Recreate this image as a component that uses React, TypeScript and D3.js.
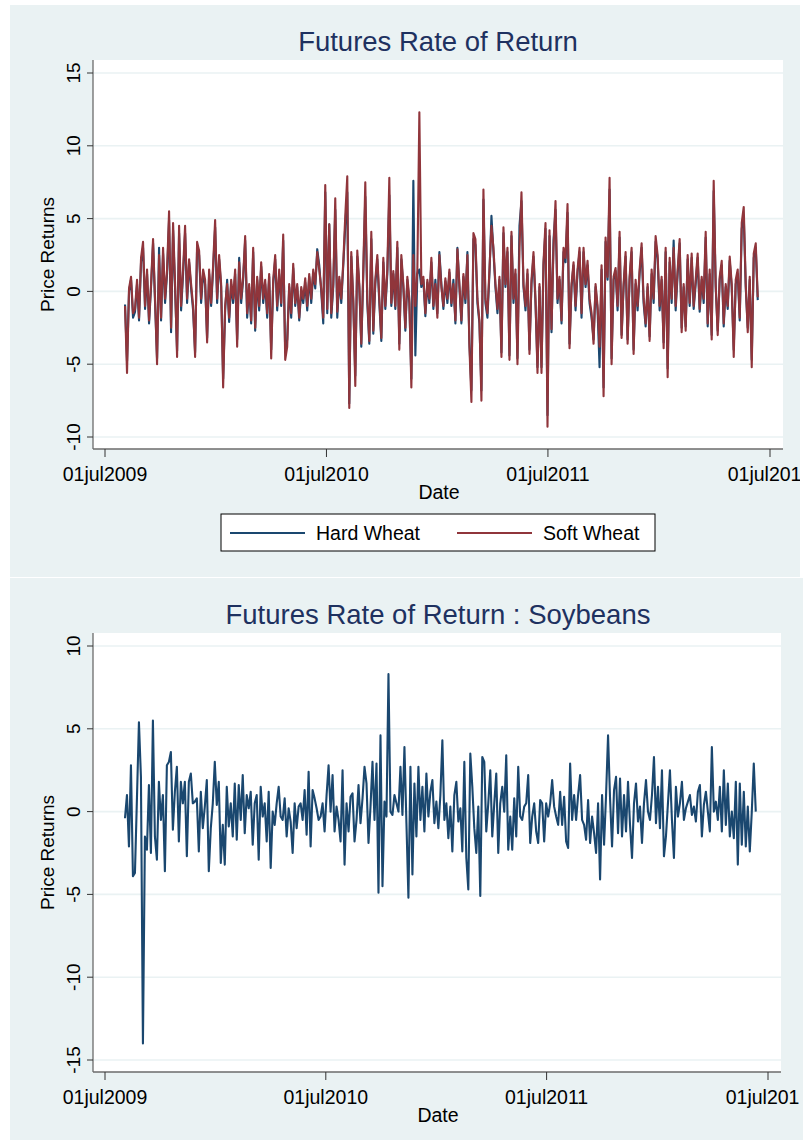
import React from "react";
import * as d3 from "d3";

// ---------- DATA ----------
const START_DATE = new Date(2009, 7, 3);
const STEP_DAYS = 3.3;

const SOFT_WHEAT = [
  -1.0, -5.6, 0.2, 1.0, -1.5, -1.2, 0.8, -1.8, 2.3, 3.4,
  -1.0, 1.5, -2.0, 0.5, 3.6, -0.5, -5.0, 2.5, -1.8, 3.0,
  -0.5, 1.5, 5.5, -2.5, 4.7, 0.5, -4.5, 4.5, -1.0, 1.5,
  4.5, -0.5, 2.2, 0.5, -1.0, -4.5, 3.4, 2.8, -0.5, 1.5,
  0.8, -3.5, 1.5, -0.8, 1.8, 4.9, -0.5, 2.5, 0.5, -6.6,
  -1.0, 0.5, -1.8, 0.8, -0.5, 1.5, -3.8, 2.0, -0.5, 1.0,
  3.8, -1.5, 0.5, -2.0, 3.0, -2.5, 1.0, -1.0, 2.0, -0.5,
  0.8, -1.5, 1.2, -4.6, 0.8, 2.5, -1.0, 1.5, -0.8, 3.9,
  -4.7, -3.8, 0.5, -1.5, 1.9, -0.8, 0.5, -1.8, 0.3, -0.5,
  0.9, -1.0, 1.2, -0.5, 1.5, 0.5, 2.7, 1.5, 0.2, -1.8,
  7.3, -1.2, 4.6, -1.5, 0.5, 6.4, -1.4, 1.0, -0.5, 2.0,
  5.2, 7.9, -8.0, 2.7, -0.5, -6.5, 2.8, 0.5, -3.6, 1.5,
  7.5, -0.5, -3.4, 4.1, -2.7, 0.8, 2.5, -0.5, -3.2, 2.3,
  -1.0, 1.5, 7.8, -0.8, 1.4, -1.0, 3.4, -4.0, 2.5, 0.5,
  -2.5, 1.0, -0.5, -6.6, 2.5, -1.0, 1.5, 12.3, 0.5, 1.0,
  -1.5, 0.8, -0.5, 2.3, -1.0, 0.5, -1.8, 2.5, 0.3, -1.0,
  0.9, -0.5, 1.5, -0.8, 0.5, -2.0, 2.9, 0.5, -2.0, 1.2,
  -0.5, 2.5, -3.8, -7.6, 4.0, 3.6, -0.5, -2.0, -7.5, 7.0,
  -0.5, -1.5, 1.5, 4.5, 3.0, 0.5, -1.2, 1.0, -4.5, 4.4,
  0.5, 3.0, -4.7, 4.1, -0.5, 1.5, -5.0, 3.0, 6.8, 0.5,
  -1.0, 1.5, -4.3, 0.8, 2.7, -0.5, -5.6, 0.5, -5.6, 2.0,
  4.7, -9.3, 4.2, -2.6, 3.0, 6.2, -0.5, 1.0, -2.0, 3.0,
  2.3, 6.0, -3.9, 0.5, 2.0, -1.0, 1.5, 3.0, -1.5, 3.0,
  0.5, 2.1, -0.5, -1.5, -3.6, 0.5, -1.0, -3.8, 1.8, -7.2,
  3.7, 1.0, 7.8, -5.0, 1.0, 1.6, -1.0, 4.1, -3.2, 0.5,
  2.7, -3.6, 1.0, 3.0, -4.3, 0.8, -1.0, 1.5, 3.3, -0.5,
  -2.2, 0.5, -3.4, 1.5, -0.5, 3.8, 2.5, -1.0, 1.0, -3.9,
  3.0, -5.9, 2.3, -0.5, 3.0, -1.0, 1.5, 3.6, -2.8, 0.5,
  -2.7, 2.5, -0.8, 2.6, -1.0, 0.8, 2.6, -1.2, 1.0, -0.5,
  4.1, -2.2, 1.5, -3.3, 7.6, 0.5, -3.0, 1.0, 2.1, -2.2,
  0.5, -1.0, 2.4, 0.5, -4.5, 0.8, 1.5, -1.8, 4.7, 5.8,
  0.5, -2.8, 1.0, -5.2, 2.6, 3.3, -0.4,
];

const HARD_WHEAT = [
  -0.9, -4.8, 0.0, 0.8, -1.8, -1.4, 0.5, -2.0, 2.0, 3.0,
  -1.2, 1.2, -2.2, 0.3, 3.3, -0.8, -4.6, 3.0, -2.0, 2.6,
  -0.8, 1.2, 4.9, -2.8, 4.2, 0.2, -4.1, 4.0, -1.3, 1.2,
  4.0, -0.8, 2.0, 0.2, -1.3, -4.2, 3.0, 2.5, -0.8, 1.2,
  0.5, -3.2, 1.2, -1.0, 1.5, 4.4, -0.8, 2.2, 0.3, -6.0,
  -1.3, 0.8, -2.1, 0.5, -0.8, 1.2, -3.3, 2.3, -0.8, 0.8,
  3.5, -1.8, 0.3, -2.2, 2.7, -2.7, 0.8, -1.3, 1.7, -0.8,
  0.5, -1.8, 1.0, -4.0, 0.5, 2.2, -1.3, 1.2, -1.0, 3.5,
  -4.2, -3.3, 0.3, -1.8, 1.6, -1.0, 0.3, -2.0, 0.0, -0.8,
  0.6, -1.3, 1.0, -0.8, 1.3, 0.2, 2.9, 1.8, 0.0, -2.2,
  6.8, -1.5, 4.6, -1.8, 0.3, 5.6, -1.8, 0.8, -0.8, 1.8,
  4.5, 6.8, -7.7, 2.4, -0.8, -5.8, 2.4, 0.3, -3.8, 1.2,
  6.5, -0.8, -3.6, 3.6, -2.9, 0.5, 2.2, -0.8, -3.4, 2.0,
  -1.2, 1.2, 6.6, -1.0, 1.2, -1.2, 3.0, -3.6, 2.2, 0.3,
  -2.7, 0.8, -0.8, -6.0, 7.6, -4.4, 1.2, 1.5, 0.3, 0.8,
  -1.7, 0.6, -0.8, 2.0, -1.2, 0.8, -1.5, 2.7, 0.5, -1.2,
  0.7, -0.8, 1.3, -1.0, 0.8, -2.2, 3.0, 0.3, -2.2, 1.0,
  -0.8, 2.7, -3.5, -6.8, 3.6, 3.2, -0.8, -2.2, -6.8, 6.3,
  -0.8, -1.8, 1.2, 5.2, 2.7, 0.3, -1.5, 0.8, -4.2, 4.0,
  0.3, 2.7, -4.4, 3.8, -0.8, 1.2, -4.6, 4.5, 6.2, 0.3,
  -1.3, 1.2, -4.0, 0.5, 2.4, -0.8, -5.2, 0.3, -5.2, 1.8,
  4.3, -8.5, 3.8, -2.8, 3.5, 5.6, -0.8, 0.8, -2.2, 2.7,
  2.0, 5.4, -3.6, 0.3, 1.8, -1.3, 1.3, 2.7, -1.8, 2.7,
  0.3, 1.8, -0.8, -1.8, -3.3, 0.3, -1.3, -5.2, 1.5, -6.6,
  3.4, 0.8, 7.0, -4.6, 0.8, 1.4, -1.3, 3.7, -3.0, 0.3,
  2.4, -3.3, 0.8, 2.7, -4.0, 0.5, -1.3, 1.2, 3.0, -0.8,
  -2.4, 0.3, -3.1, 1.2, -0.8, 3.4, 2.2, -1.3, 0.8, -3.5,
  2.7, -5.3, 2.0, -0.8, 3.5, -1.3, 1.2, 3.3, -2.5, 0.3,
  -2.4, 2.2, -1.0, 2.3, -1.2, 0.5, 2.3, -1.4, 0.8, -0.8,
  3.7, -2.4, 1.2, -3.0, 6.9, 0.3, -2.7, 0.8, 1.8, -2.4,
  0.3, -1.2, 2.1, 0.3, -4.0, 0.5, 1.2, -2.0, 4.3, 5.2,
  0.3, -2.5, 0.8, -4.7, 2.3, 3.0, -0.6,
];

const SOYBEANS = [
  -0.4, 1.0, -2.1, 2.8, -3.9, -3.7, 0.8, 5.4, 2.1, -14.0,
  -1.5, -2.3, 1.6, -2.5, 5.5, -1.5, -2.9, 1.8, -0.5, 1.0,
  -3.6, 2.8, 3.0, 3.6, -1.1, 1.2, 2.7, -1.8, 1.8, 0.5,
  1.8, -2.7, 1.8, 2.3, 0.5, 0.6, 0.8, -2.4, 1.2, -1.0,
  0.3, 1.9, -3.6, -1.0, 0.5, 3.0, 0.4, 1.8, -3.1, -0.8,
  -3.2, 1.5, -0.9, 0.5, -1.5, 1.7, -1.7, 1.6, -0.5, 2.2,
  -1.3, 1.0, 0.2, 1.2, -2.0, 0.5, 1.0, -2.9, 1.5, -0.3,
  0.5, -1.8, 1.2, -3.4, 0.0, -0.8, 0.5, 1.5, -0.3, -0.5,
  0.8, -1.5, 0.2, -0.6, -2.5, 0.5, -1.0, 0.3, 0.5, -0.5,
  1.3, -1.4, 2.4, -2.1, 1.3, 0.8, 0.2, -0.5, -0.3, 0.5,
  -1.2, 1.0, 2.8, 0.0, 2.2, -1.2, 0.3, -0.5, -1.8, 2.5,
  -3.2, 0.5, -1.2, 0.9, 1.1, -1.8, -0.5, 1.6, -0.7, 0.8,
  2.7, 1.7, -1.9, 0.3, 3.0, -0.5, 2.9, -4.9, 4.6, -4.5,
  0.6, -0.3, 8.3, 0.0, -0.2, 1.0, 0.5, 0.0, 2.7, -0.2,
  3.9, -0.7, -5.2, 2.7, -3.8, 1.7, -1.5, 2.7, -0.5, 1.5,
  -1.2, 2.3, -0.3, 1.2, 1.9, -0.7, 0.6, -1.0, 1.0, 4.3,
  -0.5, 0.5, -1.6, 0.3, -2.4, 1.0, 1.8, -0.6, 0.2, -2.4,
  3.0, -2.8, -4.7, 3.5, 1.5, -1.0, -2.5, 0.3, -5.1, 3.3,
  3.0, -1.2, 0.5, 2.5, -1.5, 0.5, 2.3, -2.5, 0.5, 1.5,
  0.0, 3.4, -2.3, -0.3, -2.3, 0.8, -1.5, 2.7, -0.3, -0.5,
  0.3, 0.5, 2.2, -1.9, -0.3, 0.5, -1.2, -1.9, 0.7, 0.5,
  -1.8, 0.5, -0.3, 0.5, 1.9, 0.3, -0.3, -0.8, 1.2, -0.8,
  0.9, -1.8, -2.2, 2.9, -0.5, 1.0, -0.5, 1.0, 2.2, -0.5,
  -0.8, -1.7, 0.7, -1.9, -0.3, -1.3, -2.5, 0.5, -4.1, 1.0,
  -2.0, 1.0, 4.6, 0.8, -2.1, 1.3, 2.1, -1.3, 2.0, -1.5,
  1.0, -1.2, 1.8, -0.8, -2.8, 0.5, 1.7, -0.6, 0.3, -1.9,
  0.5, 1.9, 0.0, -0.5, 1.0, 3.3, -0.7, 1.5, -1.0, 2.5,
  -2.7, -1.5, 0.5, 2.5, -0.5, -2.8, 1.5, -0.3, 0.5, 1.8,
  -0.5, 0.2, 0.6, 1.0, -0.2, 0.3, -0.6, 1.2, 1.6, -1.5,
  0.4, 1.2, 0.0, -1.2, 3.9, 0.0, 0.6, -0.5, 1.5, -1.2,
  2.5, -0.8, 1.7, -1.5, 0.0, -1.6, 1.8, -3.2, 1.7, -2.0,
  1.2, -2.1, 0.3, -2.4, 0.0, 2.9, 0.0,
];

const X_TICKS = [new Date(2009, 6, 1), new Date(2010, 6, 1), new Date(2011, 6, 1), new Date(2012, 6, 1)];
const X_TICK_LABELS = ["01jul2009", "01jul2010", "01jul2011", "01jul2012"];
const Y_TICKS_TOP = [-10, -5, 0, 5, 10, 15];
const Y_TICKS_BOTTOM = [-15, -10, -5, 0, 5, 10];
const SERIES_NAMES = ["Hard Wheat", "Soft Wheat"];

// ---------- STYLE ----------
const BG = "#EAF2F3";
const NAVY = "#1A476F";
const MAROON = "#90353B";
const TITLE_COLOR = "#1E3160";
const FONT = "'Liberation Sans', Arial, Helvetica, sans-serif";
const LINE_W = 2.1;

const dayMs = 24 * 3600 * 1000;
function makeDates(n: number): Date[] {
  return d3.range(n).map((i) => new Date(START_DATE.getTime() + i * STEP_DAYS * dayMs));
}

type PanelProps = {
  top: number;
  bgWidth: number;
  bgHeight: number;
  clipWidth: number;
  title: string;
  plot: { x0: number; x1: number; y0: number; y1: number };
  xRange: [number, number];
  yDomain: [number, number];
  yRange: [number, number];
  yTicks: number[];
  series: { values: number[]; color: string }[];
  clipId: string;
  children?: React.ReactNode;
};

function Panel(p: PanelProps) {
  const x = d3.scaleTime().domain([X_TICKS[0], X_TICKS[3]]).range(p.xRange);
  const y = d3.scaleLinear().domain(p.yDomain).range(p.yRange);
  const { x0, x1, y0, y1 } = p.plot;
  const midY = (y0 + y1) / 2;
  return (
    <g>
      <defs>
        <clipPath id={p.clipId}>
          <rect x={10} y={p.top} width={p.clipWidth} height={p.bgHeight} />
        </clipPath>
      </defs>
      <rect x={10} y={p.top} width={p.bgWidth} height={p.bgHeight} fill={BG} />
      <g clipPath={`url(#${p.clipId})`}>
        <rect x={x0} y={y0} width={x1 - x0} height={y1 - y0} fill="#ffffff" />
        {p.yTicks.map((t) => (
          <line key={"g" + t} x1={x0} x2={x1} y1={y(t)} y2={y(t)} stroke={BG} strokeWidth={1.6} />
        ))}
        {p.series.map((s, si) => {
          const dates = makeDates(s.values.length);
          const line = d3
            .line<number>()
            .x((_, i) => x(dates[i]))
            .y((v) => y(v));
          return (
            <path key={si} d={line(s.values) || ""} fill="none" stroke={s.color} strokeWidth={LINE_W} strokeLinejoin="round" />
          );
        })}
        {/* axes */}
        <line x1={x0} x2={x0} y1={y0} y2={y1} stroke="#6b6b6b" strokeWidth={1.3} />
        <line x1={x0} x2={x1} y1={y1} y2={y1} stroke="#6b6b6b" strokeWidth={1.3} />
        {p.yTicks.map((t) => (
          <g key={"yt" + t}>
            <line x1={x0 - 6} x2={x0} y1={y(t)} y2={y(t)} stroke="#333" strokeWidth={1} />
            <text
              transform={`translate(${x0 - 13},${y(t)}) rotate(-90)`}
              textAnchor="middle"
              fontFamily={FONT}
              fontSize={19}
              fill="#000"
            >
              {String(t)}
            </text>
          </g>
        ))}
        {X_TICKS.map((d, i) => (
          <g key={"xt" + i}>
            <line x1={x(d)} x2={x(d)} y1={y1} y2={y1 + 8} stroke="#333" strokeWidth={1} />
            <text x={x(d)} y={y1 + 32} textAnchor="middle" fontFamily={FONT} fontSize={19.5} fill="#000">
              {X_TICK_LABELS[i]}
            </text>
          </g>
        ))}
        <text x={(x0 + x1) / 2 + 1} y={y1 + 50} textAnchor="middle" fontFamily={FONT} fontSize={19.5} fill="#000">
          Date
        </text>
        <text
          transform={`translate(${54},${midY}) rotate(-90)`}
          textAnchor="middle"
          fontFamily={FONT}
          fontSize={19}
          fill="#000"
        >
          Price Returns
        </text>
        <text x={438} y={p.top + 46} textAnchor="middle" fontFamily={FONT} fontSize={27.5} fill={TITLE_COLOR}>
          {p.title}
        </text>
        {p.children}
      </g>
    </g>
  );
}

export default function App() {
  const legendY = 533;
  return (
    <svg
      width={809}
      height={1144}
      viewBox="0 0 809 1144"
      style={{ position: "absolute", left: 0, top: 0, background: "#ffffff" }}
    >
      <Panel
        top={5}
        bgWidth={790}
        bgHeight={572}
        clipWidth={790}
        title="Futures Rate of Return"
        plot={{ x0: 93, x1: 783, y0: 60, y1: 449 }}
        xRange={[105, 770]}
        yDomain={[-10, 15]}
        yRange={[437, 73]}
        yTicks={Y_TICKS_TOP}
        series={[
          { values: HARD_WHEAT, color: NAVY },
          { values: SOFT_WHEAT, color: MAROON },
        ]}
        clipId="clipTop"
      >
        <rect x={221} y={514} width={434} height={37} fill="#ffffff" stroke="#000" strokeWidth={1} />
        <line x1={230} x2={305} y1={legendY} y2={legendY} stroke={NAVY} strokeWidth={LINE_W} />
        <text x={316} y={legendY + 7} fontFamily={FONT} fontSize={19.5} fill="#000">
          {SERIES_NAMES[0]}
        </text>
        <line x1={457} x2={532} y1={legendY} y2={legendY} stroke={MAROON} strokeWidth={LINE_W} />
        <text x={543} y={legendY + 7} fontFamily={FONT} fontSize={19.5} fill="#000">
          {SERIES_NAMES[1]}
        </text>
      </Panel>
      <Panel
        top={578}
        bgWidth={793}
        bgHeight={562}
        clipWidth={789}
        title="Futures Rate of Return : Soybeans"
        plot={{ x0: 93, x1: 781, y0: 633, y1: 1072 }}
        xRange={[105, 768]}
        yDomain={[-15, 10]}
        yRange={[1060, 646]}
        yTicks={Y_TICKS_BOTTOM}
        series={[{ values: SOYBEANS, color: NAVY }]}
        clipId="clipBottom"
      />
    </svg>
  );
}
